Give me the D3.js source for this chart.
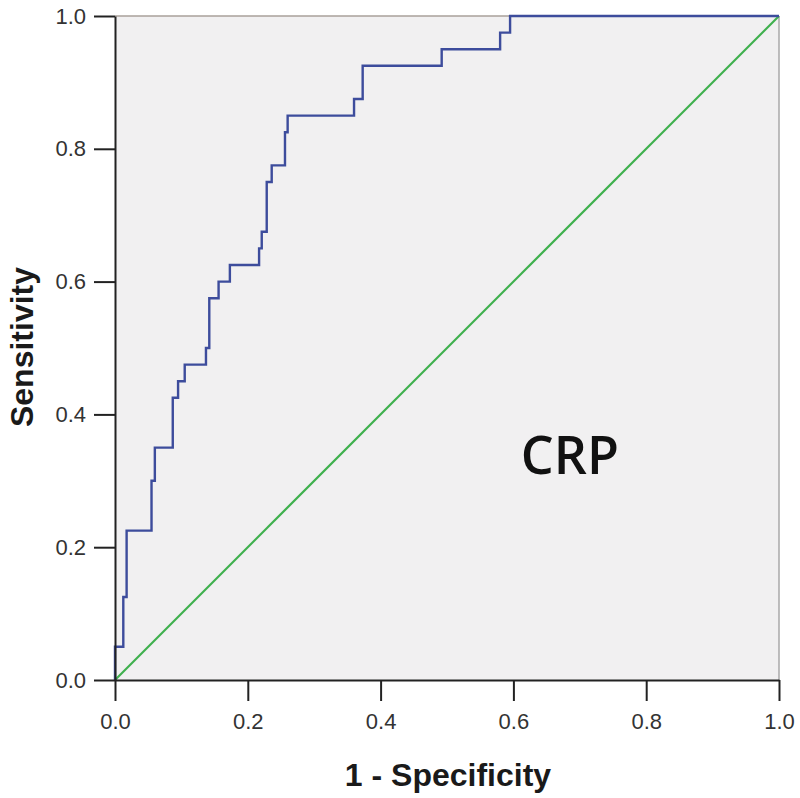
<!DOCTYPE html>
<html>
<head>
<meta charset="utf-8">
<script src="https://cdn.jsdelivr.net/npm/d3@7"></script>
<style>
  html, body { margin: 0; padding: 0; background: #fff; }
  svg { display: block; }
</style>
</head>
<body>
<svg id="chart" width="800" height="798"></svg>
<script>
// ROC curve corner points (1 - Specificity, Sensitivity)
const fpr = [0, 0, 0.0125, 0.0175, 0.055, 0.06, 0.087, 0.095, 0.105, 0.137, 0.142, 0.156, 0.173, 0.217, 0.221, 0.2285, 0.236, 0.256, 0.26, 0.36, 0.373, 0.492, 0.58, 0.595, 1];
const tpr = [0, 0.05, 0.125, 0.225, 0.30, 0.35, 0.425, 0.45, 0.475, 0.50, 0.575, 0.60, 0.625, 0.65, 0.675, 0.75, 0.775, 0.825, 0.85, 0.875, 0.925, 0.95, 0.975, 1, 1];
// Reference line
const refX = [0, 1];
const refY = [0, 1];
const tickValues = [0, 0.2, 0.4, 0.6, 0.8, 1.0];
const xTitle = "1 - Specificity";
const yTitle = "Sensitivity";
const annotation = "CRP";

const svg = d3.select("#chart");
const mLeft = 115, mRight = 779, mTop = 16, mBottom = 680;

const x = d3.scaleLinear().domain([0, 1]).range([mLeft, mRight]);
const y = d3.scaleLinear().domain([0, 1]).range([mBottom, mTop]);

// plot background
svg.append("rect")
  .attr("x", mLeft).attr("y", mTop)
  .attr("width", mRight - mLeft).attr("height", mBottom - mTop)
  .attr("fill", "#f1f0f1");

// top and right frame
svg.append("line").attr("x1", mLeft).attr("x2", mRight).attr("y1", mTop).attr("y2", mTop)
  .attr("stroke", "#a8a09a").attr("stroke-width", 1.5);
svg.append("line").attr("x1", mRight).attr("x2", mRight).attr("y1", mTop).attr("y2", mBottom)
  .attr("stroke", "#a9a9a9").attr("stroke-width", 1.5);

// reference diagonal
const refLine = d3.line().x(d => x(d[0])).y(d => y(d[1]));
svg.append("path")
  .datum(refX.map((v, i) => [v, refY[i]]))
  .attr("d", refLine)
  .attr("fill", "none")
  .attr("stroke", "#3fb04e")
  .attr("stroke-width", 2.2);

// ROC curve
const rocLine = d3.line().x(d => x(d[0])).y(d => y(d[1])).curve(d3.curveStepAfter);
svg.append("path")
  .datum(fpr.map((v, i) => [v, tpr[i]]))
  .attr("d", rocLine)
  .attr("fill", "none")
  .attr("stroke", "#3d4c9c")
  .attr("stroke-width", 2.4);

// axes
const xAxis = d3.axisBottom(x).tickValues(tickValues).tickFormat(d3.format(".1f")).tickSize(21).tickSizeOuter(0).tickPadding(12);
const yAxis = d3.axisLeft(y).tickValues(tickValues).tickFormat(d3.format(".1f")).tickSize(21).tickSizeOuter(0).tickPadding(8);

const gx = svg.append("g").attr("transform", `translate(0,${mBottom})`).call(xAxis);
const gy = svg.append("g").attr("transform", `translate(${mLeft},0)`).call(yAxis);

[gx, gy].forEach(g => {
  g.select(".domain").attr("stroke", "#222").attr("stroke-width", 2);
  g.selectAll(".tick line").attr("stroke", "#222").attr("stroke-width", 2);
  g.selectAll(".tick text")
    .attr("fill", "#333")
    .style("font-family", "'Liberation Sans', Arial, sans-serif")
    .style("font-size", "22px");
});

// axis titles
svg.append("text")
  .attr("x", (mLeft + mRight) / 2 + 1)
  .attr("y", 786)
  .attr("text-anchor", "middle")
  .style("font-family", "'Liberation Sans', Arial, sans-serif")
  .style("font-weight", "bold")
  .style("font-size", "32px")
  .attr("fill", "#1a1a1a")
  .text(xTitle);

svg.append("text")
  .attr("transform", `translate(33,${(mTop + mBottom) / 2 - 1}) rotate(-90)`)
  .attr("text-anchor", "middle")
  .style("font-family", "'Liberation Sans', Arial, sans-serif")
  .style("font-weight", "bold")
  .style("font-size", "32px")
  .attr("fill", "#1a1a1a")
  .text(yTitle);

// annotation
svg.append("text")
  .attr("x", x(0.685))
  .attr("y", 474)
  .attr("text-anchor", "middle")
  .style("font-family", "'Open Sans', sans-serif")
  .style("font-size", "52px")
  .style("font-weight", "600")
  .attr("fill", "#111")
  .text(annotation);
</script>
</body>
</html>
